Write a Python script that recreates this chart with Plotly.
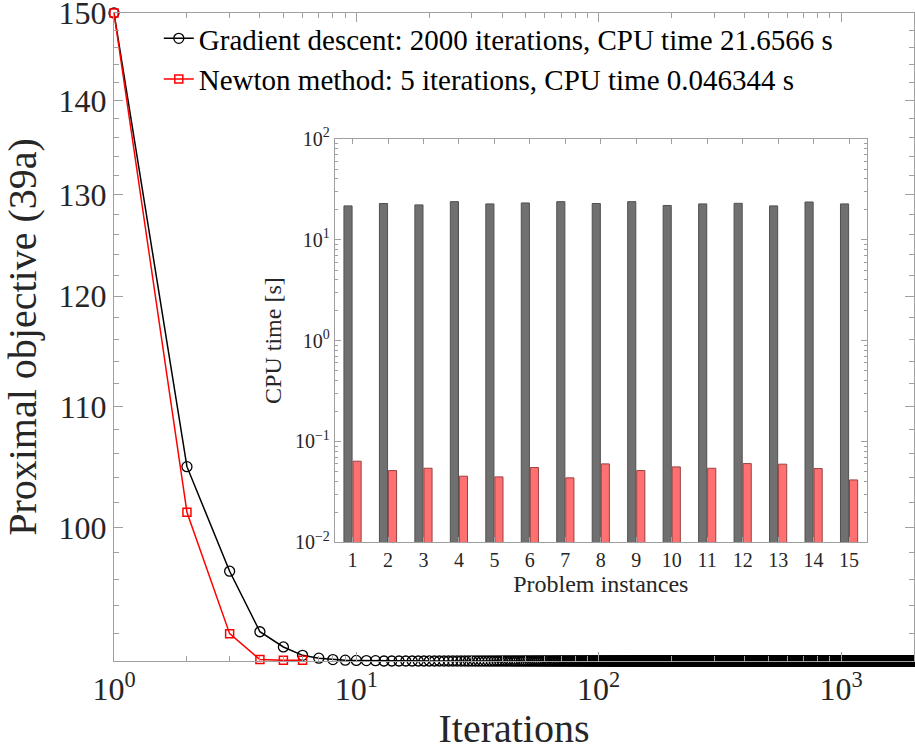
import math
import plotly.graph_objects as go

# ---------------- data ----------------
gd_head = [150.0, 104.9, 96.6, 92.1, 91.0, 90.4, 90.2, 90.1, 90.06, 90.04, 90.03, 90.02]
gd_tail_value = 90.0
gd_iterations = 2000
gd_y = gd_head + [gd_tail_value] * (gd_iterations - len(gd_head))
gd_x = list(range(1, gd_iterations + 1))

newton_y = [150.0, 101.2, 91.96, 90.1, 90.05, 90.05]
newton_x = list(range(1, len(newton_y) + 1))

instances = list(range(1, 16))
gd_cpu = [21.6, 22.8, 22.1, 23.8, 22.6, 23.1, 23.8, 22.8, 23.8, 21.8, 22.6, 22.9, 21.6, 23.6, 22.6]
newton_cpu = [0.0638, 0.0515, 0.0543, 0.0453, 0.0446, 0.0552, 0.0436, 0.0600, 0.0515,
              0.0560, 0.0543, 0.0604, 0.0596, 0.0539, 0.0416]

main_yticks = [100, 110, 120, 130, 140, 150]
main_yminor = list(range(90, 151, 2))
main_xticks = [1, 10, 100, 1000]
main_xticklabels = ["10<sup>0</sup>", "10<sup>1</sup>", "10<sup>2</sup>", "10<sup>3</sup>"]
inset_yticks = [0.01, 0.1, 1, 10, 100]
inset_yticklabels = ["10<sup>−2</sup>", "10<sup>−1</sup>", "10<sup>0</sup>", "10<sup>1</sup>", "10<sup>2</sup>"]

gd_label = "Gradient descent: 2000 iterations, CPU time 21.6566 s"
newton_label = "Newton method: 5 iterations, CPU time 0.046344 s"

# ---------------- figure ----------------
FONT = "Liberation Serif"
AX = "#a0a0a0"
TXT = "#262626"

xminor = [m * 10 ** e for e in range(0, 4) for m in range(2, 10) if m * 10 ** e <= 2000]
yminor_inset = [m * 10.0 ** e for e in range(-2, 2) for m in range(2, 10)]

fig = go.Figure()

fig.add_trace(go.Scatter(
    x=gd_x, y=gd_y, mode="lines+markers", name=gd_label,
    line=dict(color="black", width=1.5),
    marker=dict(symbol="circle-open", size=10, color="black", line=dict(width=1.3)),
    cliponaxis=False, xaxis="x", yaxis="y"))

fig.add_trace(go.Scatter(
    x=newton_x, y=newton_y, mode="lines+markers", name=newton_label,
    line=dict(color="#ff0000", width=1.5),
    marker=dict(symbol="square-open", size=8, color="#ff0000", line=dict(width=1.5)),
    cliponaxis=False, xaxis="x", yaxis="y"))

fig.add_trace(go.Bar(
    x=instances, y=gd_cpu, showlegend=False, xaxis="x2", yaxis="y2",
    marker=dict(color="#707070", line=dict(color="#505050", width=1))))

fig.add_trace(go.Bar(
    x=instances, y=newton_cpu, showlegend=False, xaxis="x2", yaxis="y2",
    marker=dict(color="#ff7070", line=dict(color="#9a4040", width=1))))

fig.update_layout(
    width=915, height=751,
    margin=dict(l=114, r=1, t=13, b=90, autoexpand=False),
    paper_bgcolor="white", plot_bgcolor="white",
    font=dict(family=FONT, color=TXT),
    barmode="group", bargap=0.49, bargroupgap=0.1,
    legend=dict(x=0.056, y=1.0, xanchor="left", yanchor="top",
                font=dict(family=FONT, size=29, color="black"),
                bgcolor="rgba(0,0,0,0)", itemwidth=30, tracegroupgap=0),
    xaxis=dict(
        type="log", range=[0, math.log10(2000)], domain=[0, 1],
        tickvals=main_xticks, ticktext=main_xticklabels,
        ticks="inside", ticklen=9, tickcolor=AX, linecolor=AX, linewidth=1,
        mirror="allticks", showline=True, showgrid=False, zeroline=False,
        minor=dict(tickvals=xminor, ticks="inside", ticklen=5, tickcolor=AX, showgrid=False),
        tickfont=dict(size=32, color=TXT), ticklabeloverflow="allow",
        title=dict(text="Iterations", font=dict(size=40, color=TXT), standoff=6),
    ),
    yaxis=dict(
        type="log", range=[math.log10(89.999), math.log10(150.001)], domain=[0, 1],
        tickvals=main_yticks, ticktext=[str(v) for v in main_yticks],
        ticks="inside", ticklen=9, tickcolor=AX, linecolor=AX, linewidth=1,
        mirror="allticks", showline=True, showgrid=False, zeroline=False,
        minor=dict(tickvals=main_yminor, ticks="inside", ticklen=5, tickcolor=AX, showgrid=False),
        tickfont=dict(size=32, color=TXT), ticklabeloverflow="allow",
        title=dict(text="Proximal objective (39a)", font=dict(size=40, color=TXT), standoff=12),
    ),
    xaxis2=dict(
        domain=[0.276, 0.941], anchor="y2", range=[0.5, 15.5],
        tickvals=instances, ticks="inside", ticklen=5, tickcolor=AX,
        linecolor=AX, linewidth=1, mirror="allticks", showline=True,
        showgrid=False, zeroline=False,
        tickfont=dict(size=20, color=TXT),
        title=dict(text="Problem instances", font=dict(size=24, color=TXT), standoff=4),
    ),
    yaxis2=dict(
        domain=[0.183, 0.806], anchor="x2", type="log", range=[-2, 2],
        tickvals=inset_yticks, ticktext=inset_yticklabels,
        ticks="inside", ticklen=6, tickcolor=AX, linecolor=AX, linewidth=1,
        mirror="allticks", showline=True, showgrid=False, zeroline=False,
        minor=dict(tickvals=yminor_inset, ticks="inside", ticklen=3, tickcolor=AX, showgrid=False),
        tickfont=dict(size=20, color=TXT),
        title=dict(text="CPU time [s]", font=dict(size=24, color=TXT), standoff=6),
    ),
)

fig.write_html("out.html", config={"displayModeBar": False},
               post_script="document.body.style.margin='0';")
